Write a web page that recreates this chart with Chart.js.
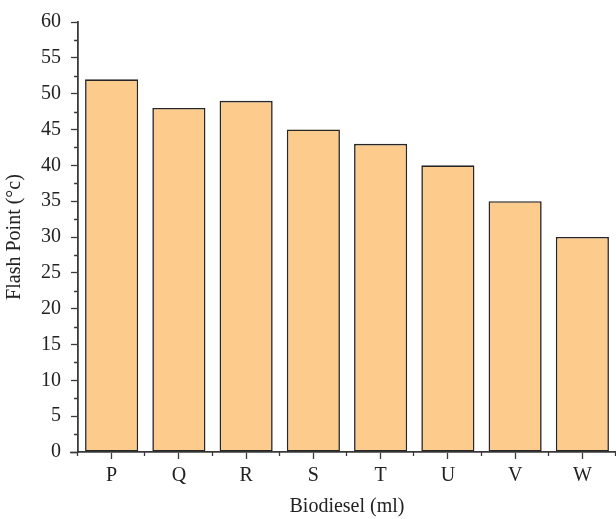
<!DOCTYPE html>
<html>
<head>
<meta charset="utf-8">
<script src="https://cdn.jsdelivr.net/npm/chart.js@4"></script>
<style>
  html, body { margin: 0; padding: 0; background: #fff; }
  #wrap { width: 616px; height: 519px; }
</style>
</head>
<body>
<div id="wrap"><canvas id="chart" width="616" height="519"></canvas></div>
<script>
// Data
const samples = ['P', 'Q', 'R', 'S', 'T', 'U', 'V', 'W'];
const flashPoint = [52, 48, 49, 45, 43, 40, 35, 30];
const yTicks = [0, 5, 10, 15, 20, 25, 30, 35, 40, 45, 50, 55, 60];

const AXIS = '#3a3a3a';
const FILL = '#FDCC8D';
const FONT = "'Liberation Serif', 'DejaVu Serif', serif";

// minor ticks: between categories on x, halfway between majors on y
const minorTicks = {
  id: 'minorTicks',
  afterDraw(chart) {
    const { ctx, scales: { x, y } } = chart;
    ctx.save();
    ctx.strokeStyle = AXIS;
    ctx.lineWidth = 1.3;
    ctx.beginPath();
    for (let i = 0; i < yTicks.length - 1; i++) {
      const py = Math.round(y.getPixelForValue((yTicks[i] + yTicks[i + 1]) / 2)) + 0.5;
      ctx.moveTo(x.left - 4, py);
      ctx.lineTo(x.left, py);
    }
    for (let i = 0; i <= samples.length; i++) {
      const px = Math.round(x.getPixelForValue(i - 0.5)) - 0.5;
      ctx.moveTo(px, y.bottom);
      ctx.lineTo(px, y.bottom + 4);
    }
    // axis line runs a little past the y axis
    ctx.moveTo(x.left - 8, y.bottom + 0.5);
    ctx.lineTo(x.left, y.bottom + 0.5);
    ctx.stroke();
    ctx.restore();
  }
};

new Chart(document.getElementById('chart'), {
  type: 'bar',
  data: {
    labels: samples,
    datasets: [{
      data: flashPoint,
      backgroundColor: FILL,
      borderColor: '#262626',
      borderWidth: 1.6,
      borderSkipped: false,
      barPercentage: 0.79,
      categoryPercentage: 1,
    }],
  },
  options: {
    responsive: false,
    animation: false,
    layout: { padding: { top: 19, right: 0, left: 0, bottom: 0 } },
    plugins: {
      legend: { display: false },
      tooltip: { enabled: false },
    },
    scales: {
      x: {
        afterFit(scale) { scale.height = 67; },
        grid: {
          offset: false,
          drawOnChartArea: false,
          tickLength: 7,
          tickColor: AXIS,
          tickWidth: 1.3,
        },
        border: { color: AXIS, width: 1.8 },
        ticks: { color: '#222', font: { family: FONT, size: 20 }, padding: 5 },
        title: {
          display: true,
          text: 'Biodiesel (ml)',
          color: '#222',
          font: { family: FONT, size: 20 },
          padding: { top: 0, bottom: 0 },
        },
      },
      y: {
        min: 0,
        max: 60,
        afterFit(scale) { scale.width = 78; },
        afterBuildTicks(scale) { scale.ticks = yTicks.map(v => ({ value: v })); },
        grid: {
          drawOnChartArea: false,
          tickLength: 7,
          tickColor: AXIS,
          tickWidth: 1.3,
        },
        border: { color: AXIS, width: 1.8 },
        ticks: { color: '#222', font: { family: FONT, size: 20 }, padding: 10 },
        title: {
          display: true,
          text: 'Flash Point (°c)',
          color: '#222',
          font: { family: FONT, size: 20 },
          padding: { top: 3, bottom: 0 },
        },
      },
    },
  },
  plugins: [minorTicks],
});
</script>
</body>
</html>
